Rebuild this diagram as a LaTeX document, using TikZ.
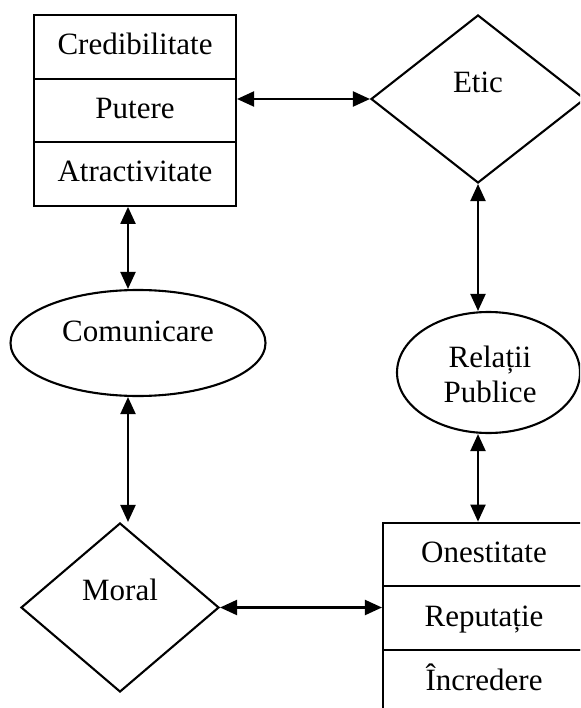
\documentclass[tikz,border=0pt]{standalone}
\usepackage{fontspec}
\setmainfont{Liberation Serif}
\usetikzlibrary{shapes.geometric,arrows.meta,calc}
\begin{document}
\begin{tikzpicture}[x=1pt,y=-1pt,
  every node/.style={line width=2.1pt},
  txt/.style={font=\fontsize{31}{36}\selectfont, inner sep=0pt},
  cell/.style={draw, txt, minimum width=202pt, minimum height=63.67pt, text height=22pt, text depth=6pt},
  dia/.style={draw, diamond, inner sep=0pt},
  ell/.style={draw, ellipse, inner sep=0pt},
  arr/.style={line width=2.1pt, {Triangle[length=17pt,width=15pt]}-{Triangle[length=17pt,width=15pt]}}]
\useasboundingbox (0,0) rectangle (580,708);
\clip (0,0) rectangle (580,708);
% top-left box
\node[cell] (cred) at (135,47) {Credibilitate};
\node[cell] (put) at (135,110.5) {Putere};
\node[cell] (atr) at (135,174) {Atractivitate};
% Etic diamond
\node[dia, minimum width=214pt, minimum height=168pt] (etic) at (478,99) {};
\node[txt, anchor=base] (etict) at (478,93) {Etic};
% Comunicare ellipse
\node[ell, minimum width=255pt, minimum height=106pt] (com) at (138,343) {};
\node[txt, anchor=base] (comt) at (138,341) {Comunicare};
% Relatii Publice ellipse
\node[ell, minimum width=183pt, minimum height=121pt] (rel) at (488.5,372.5) {};
\node[txt, anchor=base] (rel1) at (490,367) {Relații};
\node[txt, anchor=base] (rel2) at (490,402) {Publice};
% Moral diamond
\node[dia, minimum width=198pt, minimum height=169pt] (mor) at (120,607.5) {};
\node[txt, anchor=base] (mort) at (120,600) {Moral};
% bottom-right box
\node[cell] (one) at (484,554.5) {Onestitate};
\node[cell] (rep) at (484,618) {Reputație};
\node[cell] (inc) at (484,682) {Încredere};
% connectors
\draw[arr] (etic.west -| put.east) -- (etic.west);
\draw[arr] ([xshift=-7pt]atr.south) -- ([xshift=-7pt]atr.south |- com.north);
\draw[arr] ([xshift=-10pt]com.south) -- ([xshift=-10pt]com.south |- mor.north);
\draw[arr] (etic.south) -- (etic.south |- rel.north);
\draw[arr] (etic.south |- rel.south) -- (etic.south |- one.north);
\draw[arr] (mor.east) -- (mor.east -| one.west);
\end{tikzpicture}
\end{document}
